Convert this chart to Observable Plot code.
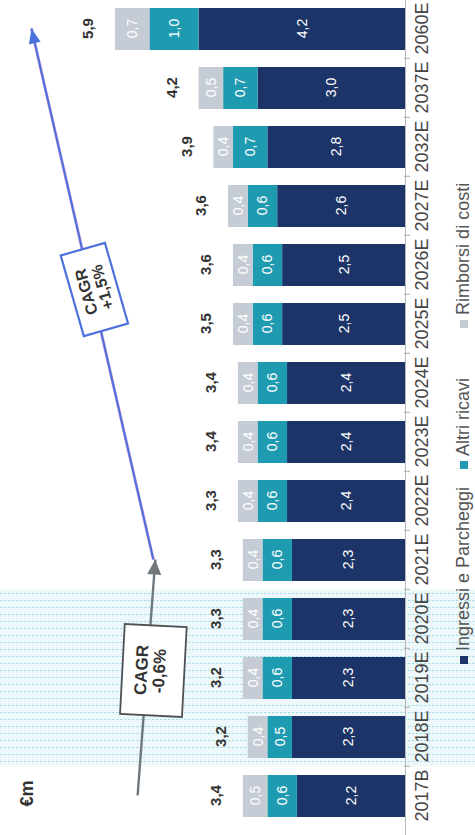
<!DOCTYPE html>
<html>
<head>
<meta charset="utf-8">
<script src="https://cdn.jsdelivr.net/npm/d3@7"></script>
<script src="https://cdn.jsdelivr.net/npm/@observablehq/plot@0.6"></script>
<style>
html, body { margin: 0; padding: 0; background: #fff; overflow: hidden; width: 475px; height: 835px; }
#wrap { position: absolute; left: 0; top: 0; width: 835px; height: 475px;
  transform-origin: 0 0; transform: translate(0, 835px) rotate(-90deg);
  font-family: "Liberation Sans", Arial, sans-serif; }
#legend { position: absolute; left: 171px; top: 453px; }
#legend .lg-swatches { font-family: "Liberation Sans", Arial, sans-serif !important; font-size: 18px !important; color: #555 !important; margin: 0 !important; }
#legend .lg-swatches-wrap { min-height: 0 !important; }
#legend .lg-swatch { margin-right: 18px !important; }
#legend .lg-swatch:nth-of-type(2) { margin-right: 50px !important; }
#legend .lg-swatch > svg { margin-right: 5px !important; }
</style>
</head>
<body>
<div id="wrap"><div id="legend"></div></div>
<script>
// ---- data ----
const years = ["2017B","2018E","2019E","2020E","2021E","2022E","2023E","2024E","2025E","2026E","2027E","2032E","2037E","2060E"];
const ingressi = [2.2, 2.3, 2.3, 2.3, 2.3, 2.4, 2.4, 2.4, 2.5, 2.5, 2.6, 2.8, 3.0, 4.2];
const altriRicavi = [0.6, 0.5, 0.6, 0.6, 0.6, 0.6, 0.6, 0.6, 0.6, 0.6, 0.6, 0.7, 0.7, 1.0];
const rimborsi = [0.5, 0.4, 0.4, 0.4, 0.4, 0.4, 0.4, 0.4, 0.4, 0.4, 0.4, 0.4, 0.5, 0.7];
const totalLabels = ["3,4","3,2","3,2","3,3","3,3","3,3","3,4","3,4","3,5","3,6","3,6","3,9","4,2","5,9"];
const seriesNames = ["Ingressi e Parcheggi", "Altri ricavi", "Rimborsi di costi"];
const seriesColors = ["#1d3468", "#1f9bb1", "#c5ccd5"];
const unitLabel = ["€m"];
const shadedYears = ["2018E", "2019E", "2020E"];
// CAGR annotations (value levels in €m)
const cagrText = ["CAGR\n-0,6%", "CAGR\n+1,5%"];
const cagrFrom = ["2017B", "2021E"];
const cagrTo = ["2021E", "2060E"];
const cagrFromLevel = [5.45, 5.13];
const cagrToLevel = [5.09, 7.61];
const cagrBoxYear = ["2019E", "2025E"];
const cagrBoxLevel = [5.13, 6.33];
const yMax = 8.24;

// ---- build ----
const seriesValues = [ingressi, altriRicavi, rimborsi];
const rows = [];
seriesNames.forEach((s, k) => years.forEach((y, i) => rows.push({year: y, series: s, value: seriesValues[k][i]})));
const sums = years.map((y, i) => ingressi[i] + altriRicavi[i] + rimborsi[i]);
const fmt = v => v.toFixed(1).replace(".", ",");

const W = 835, H = 475, MB = 70;
const xRange = [6, 840], padIn = 0.28, padOut = 0.14;
const shadeLow = -yMax * MB / (H - MB);
const pxPerUnit = (H - MB) / yMax;

// pixel geometry (same as the plot's scales) to orient the arrow heads
const xBand = d3.scaleBand(years, xRange).paddingInner(padIn).paddingOuter(padOut);
const xc = v => xBand(v) + xBand.bandwidth() / 2;
const yp = v => (H - MB) * (1 - v / yMax);
const headRotate = k => Math.atan2(xc(cagrTo[k]) - xc(cagrFrom[k]), -(yp(cagrToLevel[k]) - yp(cagrFromLevel[k]))) * 180 / Math.PI;

const rectSymbol = (w, h) => ({draw(ctx) { ctx.rect(-w / 2, -h / 2, w, h); }});
const headSymbol = (w, l) => ({draw(ctx) { ctx.moveTo(0, 0); ctx.lineTo(-w / 2, l); ctx.lineTo(w / 2, l); ctx.closePath(); }});

const plot = Plot.plot({
  width: W,
  height: H,
  marginTop: 0,
  marginBottom: MB,
  marginLeft: 0,
  marginRight: 0,
  style: {fontFamily: "'Liberation Sans', Arial, sans-serif", background: "transparent", overflow: "visible"},
  x: {type: "band", domain: years, range: xRange, paddingInner: padIn, paddingOuter: padOut, label: null},
  y: {domain: [0, yMax], axis: null},
  color: {domain: seriesNames, range: seriesColors},
  marks: [
    // shaded historical zone
    Plot.barY(shadedYears, {x: d => d, y1: shadeLow, y2: yMax, fill: "url(#dots)", insetLeft: -8.4, insetRight: -8.4}),
    // stacked bars
    Plot.barY(rows, Plot.stackY({x: "year", y: "value", z: "series", fill: "series", order: seriesNames})),
    // segment labels
    Plot.text(rows, Plot.stackY({x: "year", y: "value", z: "series", order: seriesNames,
      text: d => fmt(d.value), fill: "white", fontSize: 14})),
    // totals
    Plot.text(years, {x: d => d, y: (d, i) => sums[i], text: (d, i) => totalLabels[i],
      dy: -27, fontSize: 15, fontWeight: "bold", fill: "#333"}),
    // baseline and ticks between bars
    Plot.ruleY([0], {stroke: "#b8b8b8", strokeWidth: 1}),
    Plot.ruleX(years.slice(1), {x: d => d, y1: 0.02, y2: -5 / pxPerUnit, dx: -29.77, stroke: "#aaa"}),
    Plot.axisX({tickSize: 0, tickPadding: 10, fontSize: 18, fill: "#444", label: null}),
    // unit
    Plot.text(unitLabel, {text: d => d, frameAnchor: "top-left", dx: 28, dy: 20, fontSize: 18, fontWeight: 600, fill: "#333"}),
    // CAGR -0,6% (gray)
    Plot.link([0], {x1: [cagrFrom[0]], y1: [cagrFromLevel[0]], x2: [cagrTo[0]], y2: [cagrToLevel[0]],
      stroke: "#70787d", strokeWidth: 2.4}),
    Plot.dot([0], {x: [cagrTo[0]], y: [cagrToLevel[0]], rotate: headRotate(0), symbol: headSymbol(14, 15),
      fill: "#70787d", stroke: "none"}),
    Plot.dot([0], {x: [cagrBoxYear[0]], y: [cagrBoxLevel[0]], dx: 7, rotate: 3, symbol: rectSymbol(90, 62),
      fill: "white", stroke: "#4d5156", strokeWidth: 1.8}),
    Plot.text([cagrText[0]], {x: [cagrBoxYear[0]], y: [cagrBoxLevel[0]], text: d => d, dx: 7, dy: -3, rotate: 3,
      fontSize: 17, fontWeight: "bold", lineHeight: 1.05, fill: "#333"}),
    // CAGR +1,5% (blue)
    Plot.link([0], {x1: [cagrFrom[1]], y1: [cagrFromLevel[1]], x2: [cagrTo[1]], y2: [cagrToLevel[1]],
      stroke: "#c774c8", strokeWidth: 3, strokeOpacity: 0.7}),
    Plot.link([0], {x1: [cagrFrom[1]], y1: [cagrFromLevel[1]], x2: [cagrTo[1]], y2: [cagrToLevel[1]],
      stroke: "#4b72dc", strokeWidth: 2}),
    Plot.dot([0], {x: [cagrTo[1]], y: [cagrToLevel[1]], rotate: headRotate(1), symbol: headSymbol(12, 15),
      fill: "#4b72dc", stroke: "none"}),
    Plot.dot([0], {x: [cagrBoxYear[1]], y: [cagrBoxLevel[1]], dx: 34, rotate: -16, symbol: rectSymbol(84, 46),
      fill: "white", stroke: "#4b72dc", strokeWidth: 2.2}),
    Plot.text([cagrText[1]], {x: [cagrBoxYear[1]], y: [cagrBoxLevel[1]], text: d => d, dx: 34, rotate: -16,
      fontSize: 16, fontWeight: "bold", lineHeight: 1.05, fill: "#333"})
  ]
});

// dotted fill pattern for the shaded zone
const ns = "http://www.w3.org/2000/svg";
const defs = document.createElementNS(ns, "defs");
defs.innerHTML = '<pattern id="dots" width="7" height="4" patternUnits="userSpaceOnUse">' +
  '<rect width="7" height="4" fill="#eef8fa"/><rect x="3" y="0" width="1" height="2.5" fill="#a9dfe7"/></pattern>';
plot.insertBefore(defs, plot.firstChild);

const wrap = document.getElementById("wrap");
wrap.insertBefore(plot, wrap.firstChild);
plot.style.position = "absolute";
plot.style.left = "0";
plot.style.top = "0";

const legend = Plot.legend({color: {domain: seriesNames, range: seriesColors}, swatchSize: 8, className: "lg"});
document.getElementById("legend").appendChild(legend);
</script>
</body>
</html>
